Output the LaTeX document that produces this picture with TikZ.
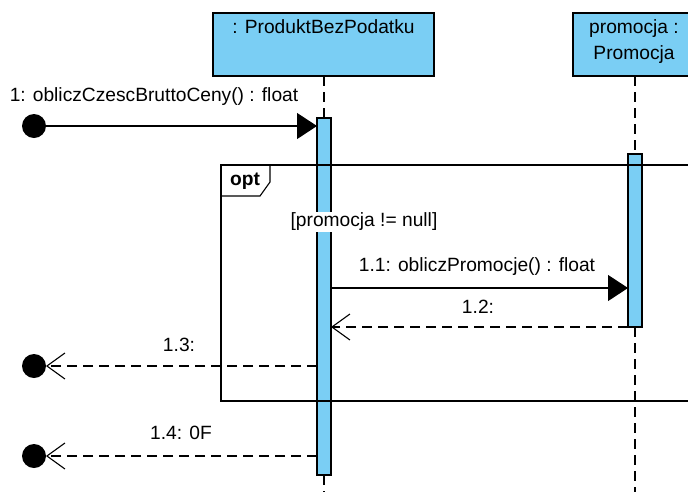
\documentclass[tikz,border=0pt]{standalone}
\usepackage{fontspec}
\setmainfont{Liberation Sans}
\usetikzlibrary{arrows.meta,calc}
\definecolor{vpblue}{HTML}{7ACEF4}
\begin{document}
\begin{tikzpicture}[x=1pt,y=-1pt,
  every node/.style={font=\fontsize{19.2}{26}\selectfont, inner sep=0pt, outer sep=0pt},
  objbox/.style={draw, fill=vpblue, line width=1.2pt, rectangle},
  actbox/.style={draw, fill=vpblue, line width=1.1pt, rectangle, minimum width=14pt},
  lifeln/.style={line width=1.1pt, dash pattern=on 10pt off 6pt},
  dotnode/.style={circle, fill=black, minimum size=24pt},
  callmsg/.style={line width=1.1pt, -{Triangle[length=20pt,width=26pt]}},
  retmsg/.style={line width=1.1pt, dash pattern=on 10pt off 6pt, -{Straight Barb[length=18pt,width=26pt,line width=1.1pt]}},
  framebox/.style={draw, line width=1.1pt, rectangle}
]
\path[use as bounding box] (0,0) rectangle (688,491);
\begin{scope}
\clip (0,0) rectangle (688,491);
\coordinate (bottom) at (0,495);
% lifeline heads
\node[objbox, minimum width=221pt, minimum height=63pt] (pbp) at (323.5,44.5) {};
\node[anchor=north] (pbpt) at ($(pbp.north)+(0,7)$) {: ProduktBezPodatku};
\node[objbox, minimum width=122pt, minimum height=63pt] (pr) at (634,44.5) {};
\node[align=center] (prt) at (634,42) {promocja :\\Promocja};
% activations
\node[actbox, minimum height=357pt] (a1) at (324,296.5) {};
\node[actbox, minimum height=173pt] (a2) at (635,240.5) {};
% lifelines
\draw[lifeln] (pbp.south -| a1) -- (a1.north);
\draw[lifeln] (a1.south) -- (a1.south |- bottom);
\draw[lifeln] (pr.south -| a2) -- (a2.north);
\draw[lifeln] (a2.south) -- (a2.south |- bottom);
% opt frame
\node[framebox, anchor=north west, minimum width=520pt, minimum height=236pt] (optf) at (221,165) {};
\coordinate (tagc) at (270,165);
\draw[line width=1.1pt] (optf.north west |- 0,196) -- (260,196) -- (270,182) -- (tagc);
\node[font=\fontsize{19.2}{26}\selectfont\bfseries] (optl) at (245,181) {opt};
\node[fill=white, inner sep=1pt] (guard) at (364,222) {[promocja != null]};
% found message 1
\node[dotnode] (d1) at (34,126) {};
\draw[callmsg] (d1) -- (a1.west |- d1);
\node (m1) at (154,97) {1: obliczCzescBruttoCeny() : float};
% 1.1
\coordinate (y11) at (0,288);
\draw[callmsg] (a1.east |- y11) -- (a2.west |- y11);
\node (m11) at (477,267) {1.1: obliczPromocje() : float};
% 1.2
\coordinate (y12) at (0,327);
\draw[retmsg] (a2.west |- y12) -- (a1.east |- y12);
\node (m12) at (478,307) {1.2:};
% 1.3
\node[dotnode] (d2) at (34,366) {};
\draw[retmsg] (a1.west |- d2) -- (d2);
\node (m13) at (179,345) {1.3:};
% 1.4
\node[dotnode] (d3) at (34,456) {};
\draw[retmsg] (a1.west |- d3) -- (d3);
\node (m14) at (181,433) {1.4: 0F};
\end{scope}
\end{tikzpicture}
\end{document}
